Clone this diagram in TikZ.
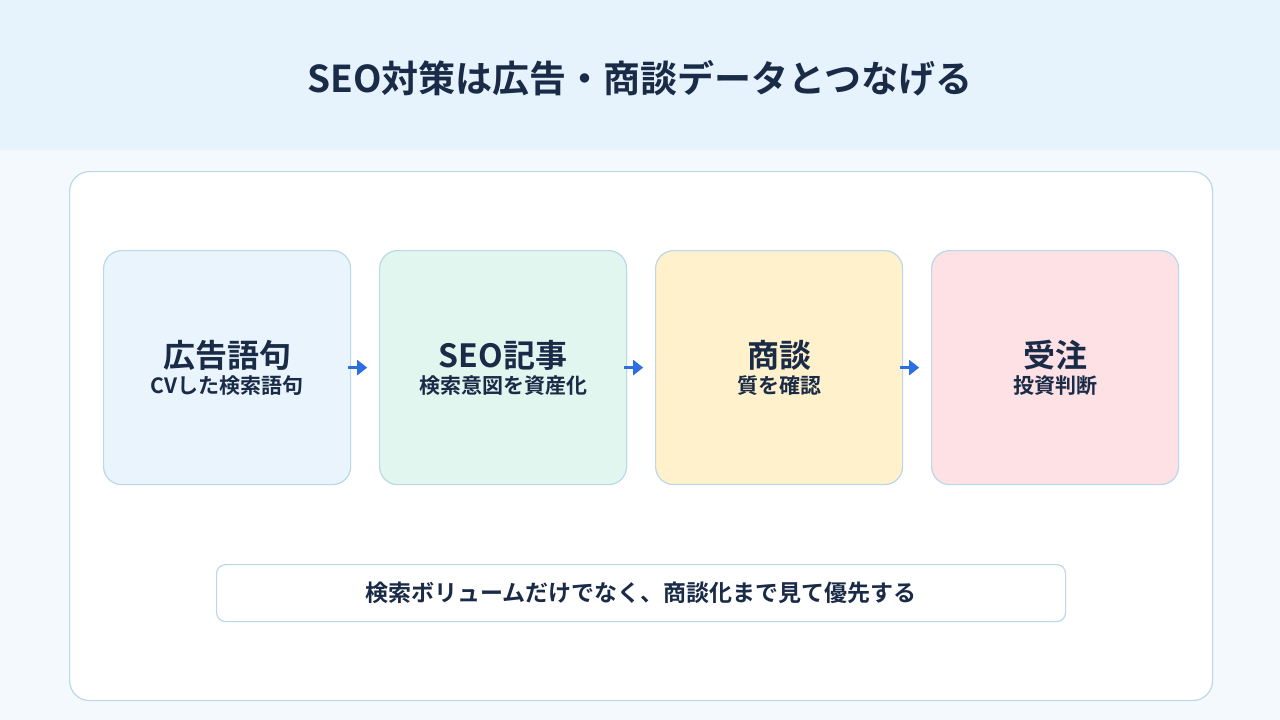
\documentclass[tikz,border=0pt]{standalone}
\usepackage{fontspec}
\setmainfont{Noto Sans CJK JP}[BoldFont={* Bold}]
\usetikzlibrary{arrows.meta}
\definecolor{ink}{HTML}{1A2B47}
\definecolor{hdr}{HTML}{E6F3FD}
\definecolor{bg}{HTML}{F4F9FD}
\definecolor{edge}{HTML}{BBD8E8}
\definecolor{arr}{HTML}{2B6FE0}
\definecolor{f1}{HTML}{EAF4FD}
\definecolor{f2}{HTML}{E0F6EE}
\definecolor{f3}{HTML}{FEF1CC}
\definecolor{f4}{HTML}{FDE1E4}
\begin{document}
\begin{tikzpicture}[x=1pt,y=-1pt,
 card/.style={draw=edge,line width=1.2pt,rounded corners=18pt,minimum width=247pt,minimum height=234pt,anchor=north west,align=center,text=ink,font=\bfseries},
 con/.style={draw=arr,line width=2.5pt,-{Triangle[length=10pt,width=15pt]}}]
\useasboundingbox (0,0) rectangle (1280,720);
\fill[bg] (0,0) rectangle (1280,720);
\fill[hdr] (0,0) rectangle (1280,150);
\node[text=ink,font=\fontsize{37}{44}\selectfont\bfseries] (title) at (640,78) {SEO対策は広告・商談データとつなげる};
\node[draw=edge,line width=1.2pt,fill=white,rounded corners=20pt,minimum width=1143pt,minimum height=529pt,anchor=north west] (panel) at (69,171) {};
\node[card,fill=f1] (c1) at (103,250) {{\fontsize{32}{40}\selectfont 広告語句}\\[4pt]{\fontsize{21}{26}\selectfont CVした検索語句}};
\node[card,fill=f2] (c2) at (379,250) {{\fontsize{32}{40}\selectfont SEO記事}\\[4pt]{\fontsize{21}{26}\selectfont 検索意図を資産化}};
\node[card,fill=f3] (c3) at (655,250) {{\fontsize{32}{40}\selectfont 商談}\\[4pt]{\fontsize{21}{26}\selectfont 質を確認}};
\node[card,fill=f4] (c4) at (931,250) {{\fontsize{32}{40}\selectfont 受注}\\[4pt]{\fontsize{21}{26}\selectfont 投資判断}};
\draw[con] ([xshift=-3pt]c1.east) -- ([xshift=16pt]c1.east);
\draw[con] ([xshift=-3pt]c2.east) -- ([xshift=16pt]c2.east);
\draw[con] ([xshift=-3pt]c3.east) -- ([xshift=16pt]c3.east);
\node[draw=edge,line width=1.2pt,fill=white,rounded corners=9pt,minimum width=849pt,minimum height=57pt,anchor=north west,text=ink,font=\fontsize{23}{28}\selectfont\bfseries] (note) at (216,564) {検索ボリュームだけでなく、商談化まで見て優先する};
\end{tikzpicture}
\end{document}
